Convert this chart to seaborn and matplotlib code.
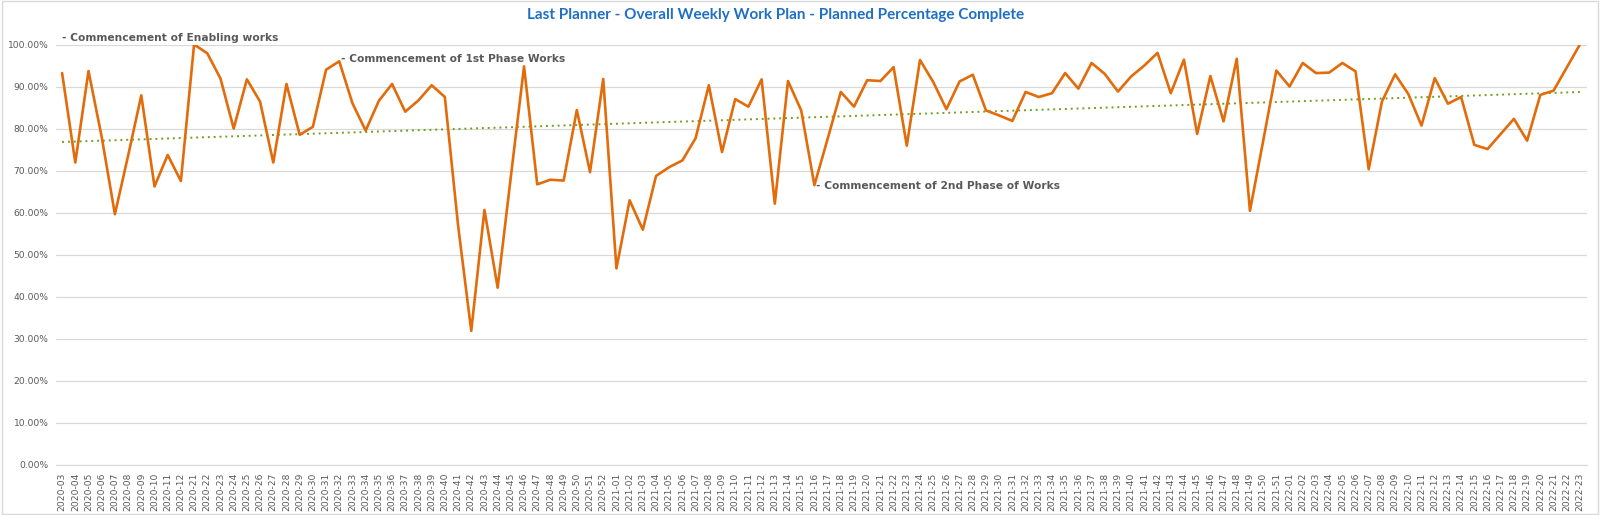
import seaborn as sns
import matplotlib.pyplot as plt
import numpy as np
from matplotlib.patches import Rectangle

# week labels (year-week) as shown on the category axis
weeks_2020a = [f"2020-{w:02d}" for w in range(3, 13)]
weeks_2020b = [f"2020-{w:02d}" for w in range(21, 53)]
weeks_2021 = [f"2021-{w:02d}" for w in range(1, 52)]
weeks_2022 = [f"2022-{w:02d}" for w in range(1, 24)]
weeks = weeks_2020a + weeks_2020b + weeks_2021 + weeks_2022

# planned percentage complete (%)
ppc_2020 = [93.2, 71.9, 93.7, 78.0, 59.6, 73.5, 87.9, 66.2, 73.7, 67.5,
            100.0, 97.9, 91.9, 80.0, 91.7, 86.4, 71.9, 90.6, 78.5, 80.4,
            94.0, 96.0, 86.0, 79.5, 86.6, 90.6, 84.0, 86.7, 90.3, 87.5,
            57.0, 31.8, 60.6, 42.1, 68.5, 94.8, 66.7, 67.8, 67.6, 84.4,
            69.6, 91.8]
ppc_2021 = [46.7, 62.9, 55.9, 68.7, 70.8, 72.4, 77.7, 90.3, 74.4, 87.0,
            85.2, 91.7, 62.1, 91.3, 84.3, 66.5, 77.5, 88.7, 85.2, 91.5,
            91.3, 94.6, 75.9, 96.3, 91.1, 84.6, 91.2, 92.8, 84.3, 83.1,
            81.8, 88.7, 87.5, 88.4, 93.2, 89.5, 95.6, 93.0, 88.8, 92.4,
            95.0, 98.0, 88.4, 96.4, 78.7, 92.5, 81.7, 96.6, 60.4, 77.0,
            93.8]
ppc_2022 = [90.0, 95.6, 93.2, 93.3, 95.6, 93.6, 70.3, 86.4, 92.9, 88.2,
            80.7, 92.0, 85.9, 87.5, 76.1, 75.1, 78.7, 82.3, 77.1, 88.0,
            89.0, 94.5, 100.0]
ppc = ppc_2020 + ppc_2021 + ppc_2022

# milestone notes: (week, text)
notes = [("2020-03", "- Commencement of Enabling works"),
         ("2020-32", "- Commencement of 1st Phase Works"),
         ("2021-16", "- Commencement of 2nd Phase of Works")]

sns.set_style("white")
plt.rcParams['font.family'] = ['DejaVu Sans']

x = np.arange(len(weeks))
fig = plt.figure(figsize=(16, 5.15), dpi=100)
ax = fig.add_axes([55.5 / 1600, 1 - 464.5 / 515, 1531 / 1600, 420 / 515])

sns.lineplot(x=x, y=ppc, ax=ax, color="#E26B0A", linewidth=1.9, zorder=3)
# linear trendline
sns.regplot(x=x, y=np.array(ppc), ax=ax, scatter=False, ci=None, truncate=True,
            line_kws=dict(color="#70A01E", linestyle=(0, (1, 2)), linewidth=1.4, zorder=2))

ax.set_xlim(-0.5, len(weeks) - 0.5)
ax.set_ylim(0, 100)
ax.set_yticks(np.arange(0, 101, 10))
ax.set_yticklabels([f"{v:.2f}%" for v in np.arange(0, 101, 10)])
ax.set_xticks(x)
ax.set_xticklabels(weeks, rotation=90)
ax.tick_params(axis="both", labelsize=6.6, colors="#595959", length=0)
ax.tick_params(axis="y", pad=5)
ax.tick_params(axis="x", pad=6)
ax.set_xlabel("")
ax.set_ylabel("")
ax.grid(axis="y", color="#D9D9D9", linewidth=0.9, zorder=0)
ax.set_axisbelow(True)
for s in ["top", "right", "left"]:
    ax.spines[s].set_visible(False)
ax.spines["bottom"].set_color("#D9D9D9")

# notes next to the marked weeks
offsets = {0: (0, 101.6), 1: (0.1, 96.5), 2: (0.15, 66.4)}
for i, (wk, txt) in enumerate(notes):
    k = weeks.index(wk)
    dx, yv = offsets[i]
    ax.text(k + dx, yv, txt, fontsize=7.7, fontweight="bold", color="#595959",
            ha="left", va="center", clip_on=False, zorder=4)

fig.text(0.4847, 1 - 15.5 / 515, "Last Planner - Overall Weekly Work Plan - Planned Percentage Complete",
         ha="center", va="center", fontsize=11, fontweight="bold", color="#1F6FC5",
         family=["Lato", "DejaVu Sans"])

fig.patches.append(Rectangle((0.001, 0.002), 0.998, 0.996, transform=fig.transFigure,
                             fill=False, edgecolor="#D9D9D9", linewidth=1))

plt.savefig("out.png", dpi=100)
plt.close()
